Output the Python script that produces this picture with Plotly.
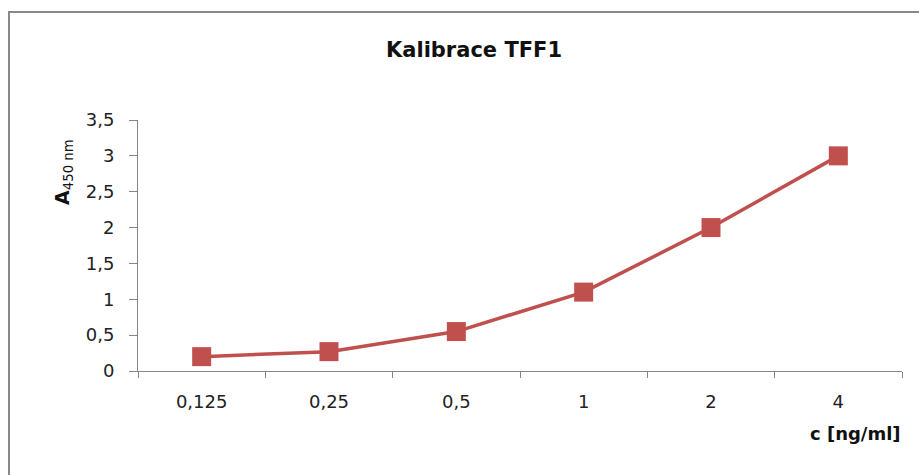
import plotly.graph_objects as go

# Calibration data: TFF1 concentration vs. absorbance at 450 nm
concentrations = ["0,125", "0,25", "0,5", "1", "2", "4"]
absorbance = [0.20, 0.27, 0.55, 1.10, 2.00, 3.00]

y_ticks = [0, 0.5, 1, 1.5, 2, 2.5, 3, 3.5]

FONT = "'DejaVu Sans', Verdana, sans-serif"
RED = "#C0504D"
AXIS_GRAY = "#868686"

W, H = 919, 475
M_L, M_R, M_T, M_B = 138, 17, 120, 104
plot_w = W - M_L - M_R
plot_h = H - M_T - M_B


def px_to_paper_x(px):
    return (px - M_L) / plot_w


def px_to_paper_y(py):
    return (H - M_B - py) / plot_h


fig = go.Figure()
fig.add_trace(go.Scatter(
    x=concentrations,
    y=absorbance,
    mode="lines+markers",
    line=dict(color=RED, width=3.5),
    marker=dict(symbol="square", size=19, color=RED),
    showlegend=False,
))

fig.update_layout(
    width=W,
    height=H,
    margin=dict(l=M_L, r=M_R, t=M_T, b=M_B),
    paper_bgcolor="white",
    plot_bgcolor="white",
    separators=", ",
    font=dict(family=FONT, size=18, color="#222222"),
    title=dict(
        text="<b>Kalibrace TFF1</b>",
        x=474 / W,
        xanchor="center",
        y=1 - 50 / H,
        yanchor="middle",
        font=dict(family=FONT, size=21, color="#111111"),
    ),
    xaxis=dict(
        type="category",
        range=[-0.5, 5.5],
        tickson="boundaries",
        ticks="outside",
        ticklen=6,
        tickcolor=AXIS_GRAY,
        showline=True,
        linecolor=AXIS_GRAY,
        linewidth=1,
        showgrid=False,
        zeroline=False,
        ticklabelstandoff=14,
        tickfont=dict(family=FONT, size=18, color="#222222"),
    ),
    yaxis=dict(
        range=[0, 3.5],
        tickvals=y_ticks,
        ticks="outside",
        ticklen=8,
        tickcolor=AXIS_GRAY,
        showline=True,
        linecolor=AXIS_GRAY,
        linewidth=1,
        showgrid=False,
        zeroline=False,
        ticklabelstandoff=11,
        tickfont=dict(family=FONT, size=18, color="#222222"),
    ),
    annotations=[
        dict(
            text="<b>A</b><sub>450 nm</sub>",
            xref="paper",
            yref="paper",
            x=px_to_paper_x(63),
            y=px_to_paper_y(172),
            xanchor="center",
            yanchor="middle",
            textangle=-90,
            showarrow=False,
            font=dict(family=FONT, size=19, color="#111111"),
        ),
        dict(
            text="<b>c [ng/ml]</b>",
            xref="paper",
            yref="paper",
            x=px_to_paper_x(903),
            y=px_to_paper_y(433),
            xanchor="right",
            yanchor="middle",
            showarrow=False,
            font=dict(family=FONT, size=18, color="#111111"),
        ),
    ],
    shapes=[
        dict(
            type="rect",
            xref="paper",
            yref="paper",
            x0=px_to_paper_x(9),
            x1=px_to_paper_x(930),
            y0=px_to_paper_y(490),
            y1=px_to_paper_y(12),
            line=dict(color="#898989", width=2),
            fillcolor="rgba(0,0,0,0)",
            layer="below",
        )
    ],
)

fig.write_html("out.html")
